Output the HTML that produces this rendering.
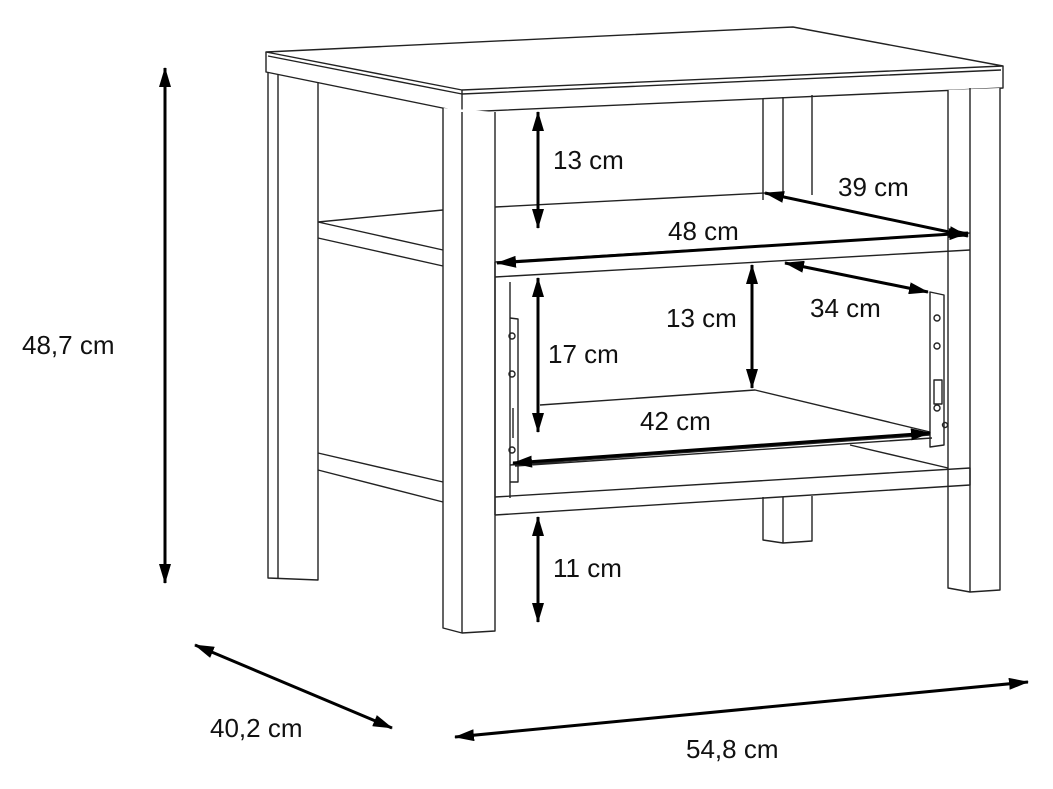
<!DOCTYPE html>
<html><head><meta charset="utf-8"><style>
html,body{margin:0;padding:0;background:#fff}
svg{display:block}
text{font-family:"Liberation Sans",sans-serif;font-size:26px;fill:#111;letter-spacing:0px}
</style></head><body>
<svg width="1053" height="789" viewBox="0 0 1053 789" xmlns="http://www.w3.org/2000/svg">
<defs>
<marker id="a" viewBox="0 0 20 12" refX="19" refY="6" markerWidth="20" markerHeight="12" markerUnits="userSpaceOnUse" orient="auto-start-reverse">
<path d="M0,0 L20,6 L0,12 Z" fill="#000"/></marker>
</defs>
<g fill="none" stroke="#222" stroke-width="1.4" stroke-linejoin="round">
<path d="M266,52 L793,27 L1003,66 L462,90 Z" fill="#fff"/>
<path d="M266,52 L266,72 L462,112 L1003,88 L1003,66"/>
<path d="M462,90 L462,112"/>
<path d="M268,56 L462,94 L1001,70"/>
<path d="M268,72 L268,578 L318,580 L318,82"/>
<path d="M278,74 L278,578"/>
<path d="M763,98 L763,200 M783,97 L783,197 M812,95 L812,195"/>
<path d="M763,497 L763,540 L783,543 L812,541 L812,496 M783,497 L783,543"/>
<path d="M318,222 L443,210 M318,222 L443,250 M318,238 L443,266"/>
<path d="M318,453 L443,482 M318,470 L443,502"/>
<path d="M443,108 L443,628 L462,633 L495,631 L495,112" fill="#fff"/>
<path d="M462,112 L462,633"/>
<path d="M948,90 L948,588 L970,592 L1000,590 L1000,88" fill="#fff"/>
<path d="M970,88 L970,592"/>
<path d="M495,207 L765,193"/>
<path d="M495,262 L970,233 M495,277 L970,250 M495,262 L495,277"/>
<path d="M495,277 L495,515 M510,282 L510,498"/>
<path d="M540,405 L755,390 L930,432"/>
<path d="M930,292 L944,295 L944,445 L930,447 Z" fill="#fff"/>
<circle cx="937" cy="318" r="3"/><circle cx="937" cy="346" r="3"/><circle cx="937" cy="408" r="3"/><circle cx="945" cy="425" r="2.5"/>
<rect x="934" y="380" width="8" height="24"/>
<path d="M510,318 L518,319 L518,482 L510,482"/>
<circle cx="512" cy="336" r="3"/><circle cx="512" cy="374" r="3"/><circle cx="512" cy="450" r="3"/>
<path d="M513,408 L513,438"/>
<path d="M510,465 L930,435 M515,466 L932,438"/>
<path d="M850,445 L948,468"/>
<path d="M495,497 L970,468 L970,485 L495,515"/>
</g>
<g stroke="#000" stroke-width="3" fill="none">
<line x1="165" y1="68" x2="165" y2="583" marker-start="url(#a)" marker-end="url(#a)"/>
<line x1="538" y1="112" x2="538" y2="228" marker-start="url(#a)" marker-end="url(#a)"/>
<line x1="765" y1="193" x2="968" y2="236" marker-start="url(#a)" marker-end="url(#a)"/>
<line x1="497" y1="263" x2="968" y2="233" marker-start="url(#a)" marker-end="url(#a)"/>
<line x1="538" y1="278" x2="538" y2="432" marker-start="url(#a)" marker-end="url(#a)"/>
<line x1="752" y1="265" x2="752" y2="388" marker-start="url(#a)" marker-end="url(#a)"/>
<line x1="785" y1="263" x2="928" y2="292" marker-start="url(#a)" marker-end="url(#a)"/>
<line x1="513" y1="463" x2="930" y2="433" marker-start="url(#a)" marker-end="url(#a)"/>
<line x1="538" y1="517" x2="538" y2="622" marker-start="url(#a)" marker-end="url(#a)"/>
<line x1="195" y1="645" x2="392" y2="728" marker-start="url(#a)" marker-end="url(#a)"/>
<line x1="455" y1="737" x2="1028" y2="682" marker-start="url(#a)" marker-end="url(#a)"/>
</g>
<text x="22" y="354">48,7 cm</text>
<text x="553" y="169">13 cm</text>
<text x="838" y="196">39 cm</text>
<text x="668" y="240">48 cm</text>
<text x="548" y="363">17 cm</text>
<text x="666" y="327">13 cm</text>
<text x="810" y="317">34 cm</text>
<text x="640" y="430">42 cm</text>
<text x="553" y="577">11 cm</text>
<text x="210" y="737">40,2 cm</text>
<text x="686" y="758">54,8 cm</text>
</svg>
</body></html>
